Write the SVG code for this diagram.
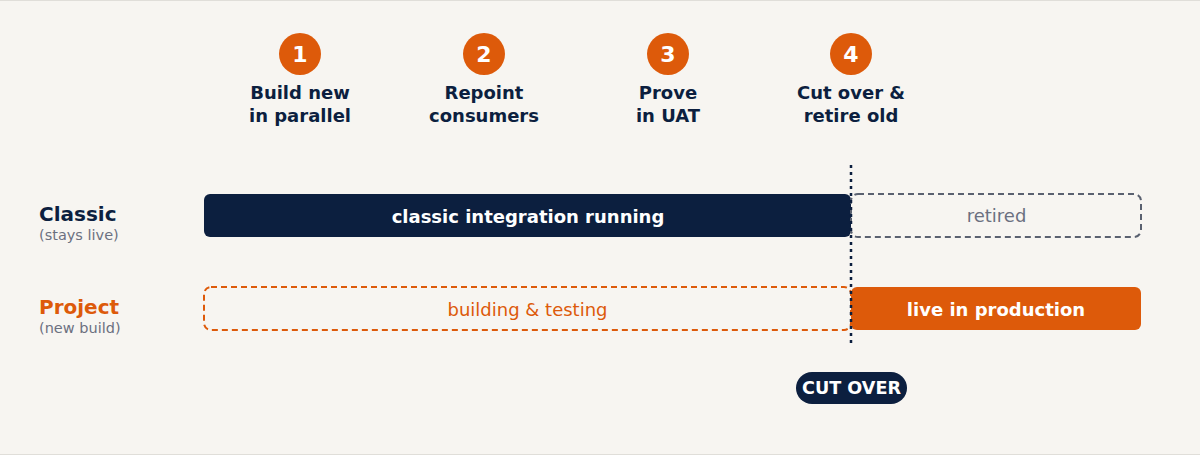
<svg xmlns="http://www.w3.org/2000/svg" width="1200" height="455" viewBox="0 0 1200 455">
<style>
text{font-family:"DejaVu Sans","Liberation Sans",sans-serif}
.num{fill:#fff;font-weight:bold;font-size:22px;text-anchor:middle}
.step{fill:#0c1f3f;font-weight:bold;font-size:18px;text-anchor:middle}
.circ{fill:#dd5a0a}
.lane{font-weight:bold;font-size:20px}
.sub{fill:#6b7080;font-size:14.5px}
.barlbl{font-size:18px;text-anchor:middle}
</style>
<rect x="0" y="0" width="1200" height="455" fill="#f7f5f1"/>
<line x1="0" y1="0.5" x2="1200" y2="0.5" stroke="#e0ded9"/>
<line x1="0" y1="454.5" x2="1200" y2="454.5" stroke="#e0ded9"/>
<g id="step1"><circle class="circ" cx="300" cy="54" r="21"/><text class="num" x="300" y="62">1</text><text class="step" x="300" y="99">Build new</text><text class="step" x="300" y="122">in parallel</text></g>
<g id="step2"><circle class="circ" cx="484" cy="54" r="21"/><text class="num" x="484" y="62">2</text><text class="step" x="484" y="99">Repoint</text><text class="step" x="484" y="122">consumers</text></g>
<g id="step3"><circle class="circ" cx="668" cy="54" r="21"/><text class="num" x="668" y="62">3</text><text class="step" x="668" y="99">Prove</text><text class="step" x="668" y="122">in UAT</text></g>
<g id="step4"><circle class="circ" cx="851" cy="54" r="21"/><text class="num" x="851" y="62">4</text><text class="step" x="851" y="99">Cut over &amp;</text><text class="step" x="851" y="122">retire old</text></g>
<g id="lane-classic"><text class="lane" x="39" y="221" fill="#0c1f3f">Classic</text><text class="sub" x="39" y="240">(stays live)</text></g>
<g id="lane-project"><text class="lane" x="39" y="314" fill="#dd5a0a">Project</text><text class="sub" x="39" y="333">(new build)</text></g>
<g id="classic-running"><rect x="204" y="194" width="647" height="43" rx="6" fill="#0c1f3f"/><text class="barlbl" x="528" y="223" fill="#fff" font-weight="bold">classic integration running</text></g>
<g id="retired"><rect x="851" y="194" width="290" height="43" rx="7" fill="none" stroke="#5a6170" stroke-width="2" stroke-dasharray="6 4"/><text class="barlbl" x="996.5" y="222" fill="#6b7080" font-size="16.5">retired</text></g>
<g id="building"><rect x="204" y="287" width="647" height="43" rx="7" fill="none" stroke="#dd5a0a" stroke-width="2" stroke-dasharray="6 4"/><text class="barlbl" x="527.5" y="316" fill="#dd5a0a" font-size="16.5">building &amp; testing</text></g>
<g id="live"><rect x="851" y="287" width="290" height="43" rx="6" fill="#dd5a0a"/><text class="barlbl" x="996" y="316" fill="#fff" font-weight="bold">live in production</text></g>
<g id="connectors"><line x1="851" y1="165" x2="851" y2="347" stroke="#0c1f3f" stroke-width="2.5" stroke-dasharray="3 4"/></g>
<g id="cutover"><rect x="796" y="372" width="111" height="32" rx="16" fill="#0c1f3f"/><text x="851.5" y="394" fill="#fff" font-weight="bold" font-size="17.6" text-anchor="middle">CUT OVER</text></g>
</svg>
